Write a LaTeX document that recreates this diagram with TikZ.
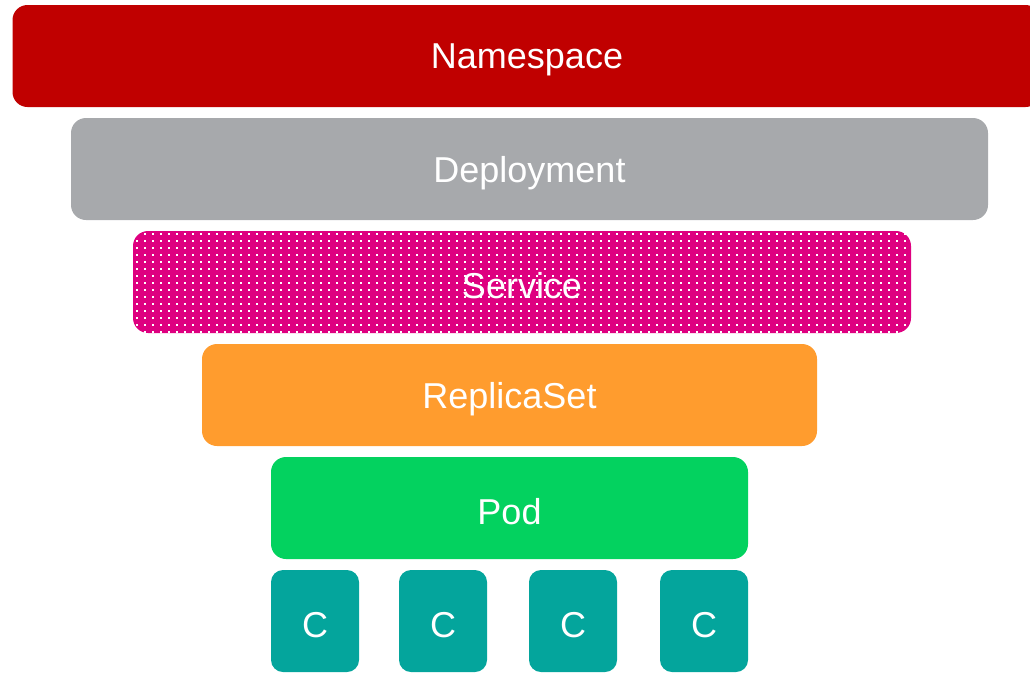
\documentclass[tikz,border=0pt]{standalone}
\usepackage{fontspec}
\setmainfont{Liberation Sans}
\definecolor{nsred}{HTML}{C00000}
\definecolor{depgray}{HTML}{A7A9AC}
\definecolor{svcpink}{HTML}{DE0080}
\definecolor{rsorange}{HTML}{FF9C2E}
\definecolor{podgreen}{HTML}{03D25F}
\definecolor{ctrteal}{HTML}{04A59C}
\begin{document}
\begin{tikzpicture}[x=0.75pt,y=-0.75pt,
  layer/.style={rounded corners=11.25pt, inner sep=0pt},
  lbl/.style={text=white, inner sep=0pt, yshift=-3pt, font=\fontsize{27}{30}\selectfont},
  ctr/.style={layer, rounded corners=9pt, fill=ctrteal, minimum width=66pt, minimum height=76.5pt}]
\useasboundingbox (0,0) rectangle (1030,675);
\begin{scope}
\clip (0,0) rectangle (1030,675);
% Namespace runs off the right edge
\node[layer, fill=nsred, minimum width=771pt, minimum height=76.5pt] (ns) at (526.5,56) {};
\end{scope}
\node[lbl] (nslabel) at (527,56) {Namespace};
\node[layer, fill=depgray, minimum width=687.75pt, minimum height=76.5pt] (dep) at (529.5,169) {};
\node[lbl] (deplabel) at (dep) {Deployment};
% Service: pink box with a grid of white dots
\node[layer, fill=svcpink, minimum width=583.5pt, minimum height=76.5pt] (svc) at (522,282) {};
\begin{scope}
\clip[rounded corners=11.25pt] (svc.north west) rectangle (svc.south east);
\foreach \yy in {234,241,...,333} {
  \foreach \xx in {137,145,...,911} {
    \fill[white] (\xx-1,\yy-1) rectangle (\xx+1,\yy+1);
  }
}
\end{scope}
\node[lbl] (svclabel) at (svc) {Service};
\node[layer, fill=rsorange, minimum width=461.25pt, minimum height=76.5pt] (rs) at (509.5,395) {};
\node[lbl] (rslabel) at (rs) {ReplicaSet};
\node[layer, fill=podgreen, minimum width=357.75pt, minimum height=76.5pt] (pod) at (509.5,508) {};
\node[lbl] (podlabel) at (pod) {Pod};
\node[ctr] (c1) at (315,621) {};
\node[ctr] (c2) at (443,621) {};
\node[ctr] (c3) at (573,621) {};
\node[ctr] (c4) at (704,621) {};
\foreach \c in {c1,c2,c3,c4} { \node[lbl] (\c label) at (\c) {C}; }
\end{tikzpicture}
\end{document}
